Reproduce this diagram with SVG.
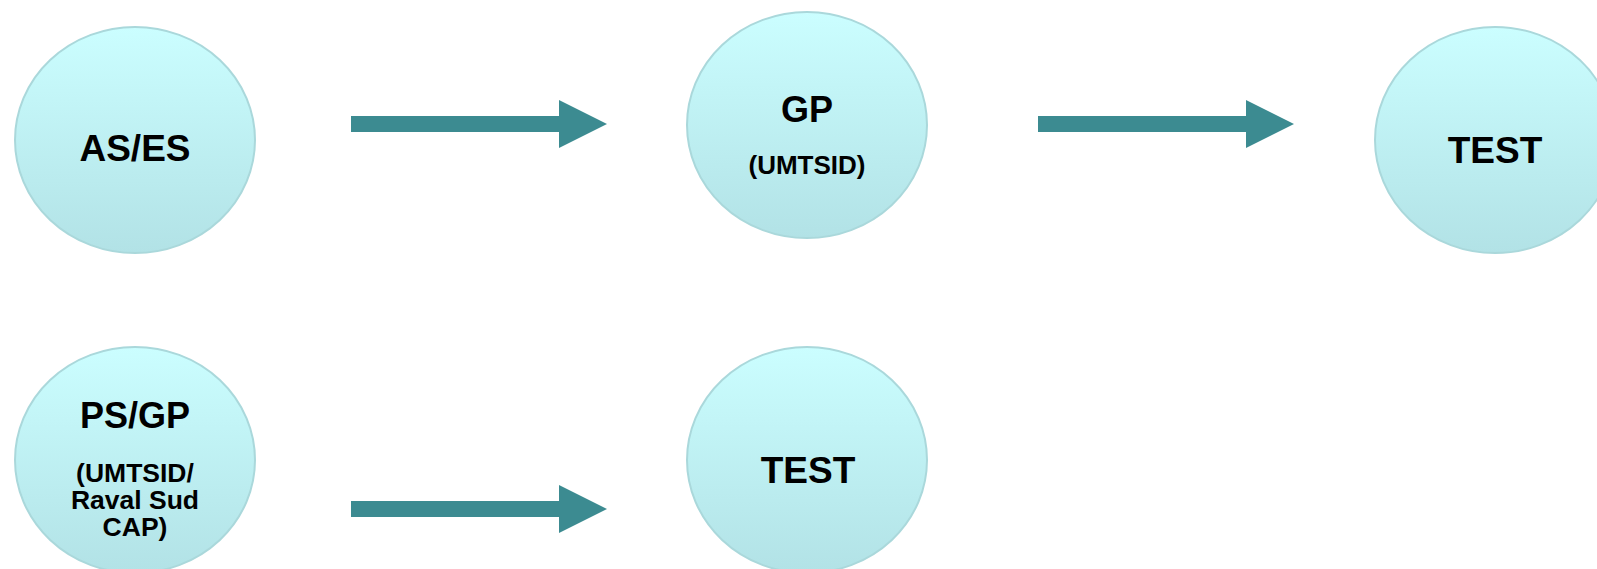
<svg xmlns="http://www.w3.org/2000/svg" width="1597" height="569" viewBox="0 0 1597 569">
  <defs>
    <linearGradient id="bubbleFill" x1="0" y1="0" x2="0" y2="1">
      <stop offset="0" stop-color="#CBFEFF"/>
      <stop offset="1" stop-color="#B2E2E6"/>
    </linearGradient>
    <style>
      .bubble { fill: url(#bubbleFill); stroke: #AAD8DB; stroke-width: 2; }
      .title { font-family: "Liberation Sans", Arial, sans-serif; font-weight: bold; fill: #000; text-anchor: middle; }
      .arrow { fill: #3C8B91; }
    </style>
  </defs>
  <rect width="1597" height="569" fill="#FFFFFF"/>

  <g id="node-ases">
    <ellipse class="bubble" cx="135" cy="140" rx="120" ry="113"/>
    <text class="title" x="135" y="161" font-size="37">AS/ES</text>
  </g>

  <g id="node-gp">
    <ellipse class="bubble" cx="807" cy="125" rx="120" ry="113"/>
    <text class="title" x="807" y="122" font-size="36">GP</text>
    <text class="title" x="807" y="174" font-size="26">(UMTSID)</text>
  </g>

  <g id="node-test-top">
    <ellipse class="bubble" cx="1495" cy="140" rx="120" ry="113"/>
    <text class="title" x="1495" y="163" font-size="37">TEST</text>
  </g>

  <g id="node-psgp">
    <ellipse class="bubble" cx="135" cy="460" rx="120" ry="113"/>
    <text class="title" x="135" y="428" font-size="36">PS/GP</text>
    <text class="title" x="135" y="482" font-size="26.5">(UMTSID/</text>
    <text class="title" x="135" y="509" font-size="26.5">Raval Sud</text>
    <text class="title" x="135" y="536" font-size="26.5">CAP)</text>
  </g>

  <g id="node-test-bottom">
    <ellipse class="bubble" cx="807" cy="460" rx="120" ry="113"/>
    <text class="title" x="808" y="483" font-size="37">TEST</text>
  </g>

  <g id="connectors">
    <polygon class="arrow" points="351,116 559,116 559,100 607,124 559,148 559,132 351,132"/>
    <polygon class="arrow" points="1038,116 1246,116 1246,100 1294,124 1246,148 1246,132 1038,132"/>
    <polygon class="arrow" points="351,501 559,501 559,485 607,509 559,533 559,517 351,517"/>
  </g>
</svg>
